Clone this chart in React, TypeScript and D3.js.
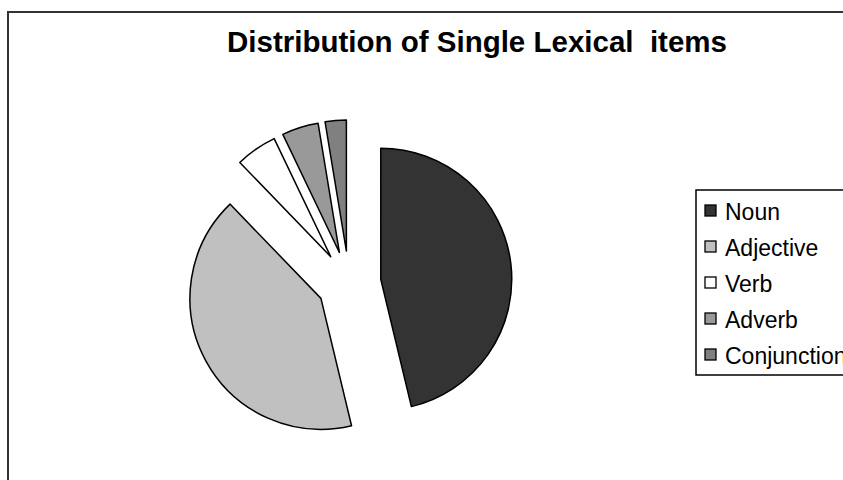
import React from "react";
import * as d3 from "d3";

const categories = ["Noun", "Adjective", "Verb", "Adverb", "Conjunction"];
const shares = [46.2, 41.5, 5.1, 4.5, 2.6];
const fills = ["#333333", "#c0c0c0", "#ffffff", "#999999", "#808080"];
const title = "Distribution of Single Lexical\u00a0 items";

const W = 843;
const H = 480;

const App: React.FC = () => {
  // pie geometry
  const cx = 349;
  const cy = 283;
  const radius = 131;
  const explode = 32;

  const pie = d3
    .pie<number>()
    .sort(null)
    .value((d) => d)
    .startAngle(0)
    .endAngle(2 * Math.PI);
  const arcs = pie(shares);
  const arc = d3.arc<d3.PieArcDatum<number>>().innerRadius(0).outerRadius(radius);

  // legend layout (baselines)
  const legendY = d3
    .scalePoint<string>()
    .domain(categories)
    .range([220, 364]);

  return (
    <svg
      width={W}
      height={H}
      style={{ position: "absolute", left: 0, top: 0, background: "#fff" }}
      fontFamily="'Liberation Sans', Arial, sans-serif"
    >
      <rect x={8} y={12} width={W} height={H} fill="#fff" stroke="#333" strokeWidth={2} />
      <text
        x={477}
        y={52}
        textAnchor="middle"
        fontSize={29.5}
        fontWeight="bold"
        fill="#000"
      >
        {title}
      </text>

      <g transform={`translate(${cx},${cy})`}>
        {arcs.map((a, i) => {
          const mid = (a.startAngle + a.endAngle) / 2;
          const dx = explode * Math.sin(mid);
          const dy = -explode * Math.cos(mid);
          return (
            <path
              key={categories[i]}
              d={arc(a) ?? ""}
              transform={`translate(${dx},${dy})`}
              fill={fills[i]}
              stroke="#000"
              strokeWidth={1.5}
              strokeLinejoin="round"
            />
          );
        })}
      </g>

      <rect x={696} y={190} width={200} height={185} fill="#fff" stroke="#000" strokeWidth={1.5} />
      {categories.map((c, i) => {
        const y = legendY(c) ?? 0;
        return (
          <g key={c}>
            <rect x={705} y={y - 15} width={11} height={11} fill={fills[i]} stroke="#000" strokeWidth={1.3} />
            <text x={725} y={y} fontSize={23} fill="#000">
              {c}
            </text>
          </g>
        );
      })}
    </svg>
  );
};

export default App;
